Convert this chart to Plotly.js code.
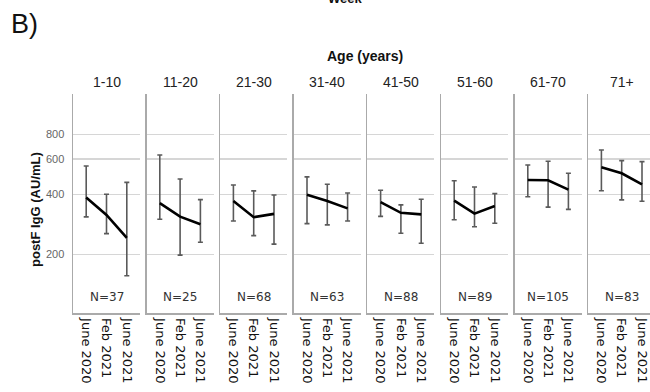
<!DOCTYPE html>
<html>
<head>
<meta charset="utf-8">
<script src="https://cdn.plot.ly/plotly-3.0.1.min.js"></script>
<style>html,body{margin:0;padding:0;background:#fff;}#chart{width:650px;height:392px;}</style>
</head>
<body>
<div id="chart"></div>
<script>
// ---- data ----
const ageGroups = ["1-10", "11-20", "21-30", "31-40", "41-50", "51-60", "61-70", "71+"];
const timepoints = ["June 2020", "Feb 2021", "June 2021"];
const nCounts = [37, 25, 68, 63, 88, 89, 105, 83];
const meanIgG = [
  [385, 315, 242],
  [361, 309, 283],
  [370, 307, 319],
  [398, 370, 340],
  [365, 323, 317],
  [372, 320, 349],
  [472, 470, 422],
  [547, 510, 449]
];
const upperCI = [
  [555, 400, 459],
  [630, 477, 376],
  [445, 416, 397],
  [489, 449, 406],
  [419, 354, 378],
  [468, 435, 403],
  [561, 586, 510],
  [667, 590, 583]
];
const lowerCI = [
  [308, 254, 156],
  [300, 198, 230],
  [294, 248, 225],
  [285, 281, 294],
  [310, 255, 227],
  [298, 275, 286],
  [389, 345, 336],
  [417, 375, 369]
];
const yTicks = [200, 400, 600, 800];

// ---- layout geometry (pixels in a 650x392 figure) ----
const W = 650, H = 392;
const panelLeft0 = 73, panelStep = 73.6, panelW = 67;
const plotTop = 94, plotBottom = 313;
const xPad = 0.65; // range padding in category units

const traces = [];
const layout = {
  width: W, height: H,
  margin: {l: 0, r: 0, t: 0, b: 0},
  paper_bgcolor: "#fff", plot_bgcolor: "rgba(0,0,0,0)",
  showlegend: false,
  font: {family: "Liberation Sans, Arial, sans-serif", color: "#222"},
  annotations: []
};

const yDom = [1 - plotBottom / H, 1 - plotTop / H];
const yRange = [Math.log10(101.5), Math.log10(1274)];

ageGroups.forEach((g, i) => {
  const ax = i === 0 ? "" : String(i + 1);
  const left = panelLeft0 + panelStep * i;
  let right = left + panelW;
  let xr = [-xPad, 2 + xPad];
  if (right > W) {
    const unitPx = panelW / (2 + 2 * xPad);
    xr = [-xPad, -xPad + (W - left) / unitPx];
    right = W;
  }
  const m = meanIgG[i];
  traces.push({
    type: "scatter", mode: "lines",
    x: [0, 1, 2], y: m,
    xaxis: "x" + ax, yaxis: "y" + ax,
    line: {color: "#000", width: 2.6},
    error_y: {
      type: "data", symmetric: false,
      array: upperCI[i].map((u, k) => u - m[k]),
      arrayminus: lowerCI[i].map((l, k) => m[k] - l),
      color: "#5a5a5a", thickness: 1.6, width: 2.5
    },
    hoverinfo: "skip"
  });
  layout["xaxis" + ax] = {
    domain: [left / W, right / W],
    anchor: "y" + ax,
    range: xr,
    tickvals: [0, 1, 2],
    ticktext: timepoints,
    tickangle: 90,
    ticks: "",
    ticklabelstandoff: 1,
    tickfont: {family: "DejaVu Sans", size: 13, color: "#111"},
    showgrid: false, zeroline: false,
    showline: true, linecolor: "#aaa", linewidth: 1.5,
    fixedrange: true
  };
  layout["yaxis" + ax] = {
    domain: yDom,
    anchor: "x" + ax,
    type: "log",
    range: yRange,
    tickvals: yTicks,
    ticktext: yTicks.map(String),
    showticklabels: i === 0,
    ticks: "",
    ticklabelstandoff: 5,
    tickfont: {family: "Liberation Sans, Arial", size: 11, color: "#666"},
    showgrid: true, gridcolor: "#d6d6d6", gridwidth: 1.5,
    zeroline: false,
    showline: true, linecolor: "#aaa", linewidth: 1.5,
    fixedrange: true
  };
  layout.annotations.push({
    text: g, xref: "x" + ax + " domain", yref: "paper",
    x: 0.5 * panelW / (right - left), y: 1 - 82 / H,
    xanchor: "center", yanchor: "middle", showarrow: false,
    font: {family: "Liberation Sans, Arial", size: 14, color: "#222"}
  });
  layout.annotations.push({
    text: "N=" + nCounts[i], xref: "x" + ax + " domain", yref: "paper",
    x: 0.5 * panelW / (right - left), y: 1 - 297 / H,
    xanchor: "center", yanchor: "middle", showarrow: false,
    font: {family: "DejaVu Sans", size: 12, color: "#333"}
  });
});

layout.annotations.push(
  {text: "<b>Age (years)</b>", xref: "paper", yref: "paper", x: 365 / W, y: 1 - 56 / H,
   xanchor: "center", yanchor: "middle", showarrow: false,
   font: {family: "Liberation Sans, Arial", size: 14, color: "#111"}},
  {text: "<b>Week</b>", xref: "paper", yref: "paper", x: 345 / W, y: 1 + 1 / H,
   xanchor: "center", yanchor: "middle", showarrow: false,
   font: {family: "Liberation Sans, Arial", size: 13, color: "#111"}},
  {text: "B)", xref: "paper", yref: "paper", x: 9 / W, y: 1 - 24 / H,
   xanchor: "left", yanchor: "middle", showarrow: false,
   font: {family: "Liberation Sans, Arial", size: 27, color: "#111"}},
  {text: "<b>postF IgG (AU/mL)</b>", xref: "paper", yref: "paper", x: 35 / W, y: 1 - 210 / H,
   xanchor: "center", yanchor: "middle", showarrow: false, textangle: -90,
   font: {family: "Liberation Sans, Arial", size: 13, color: "#111"}}
);

Plotly.newPlot("chart", traces, layout, {staticPlot: true, displayModeBar: false});
</script>
</body>
</html>
